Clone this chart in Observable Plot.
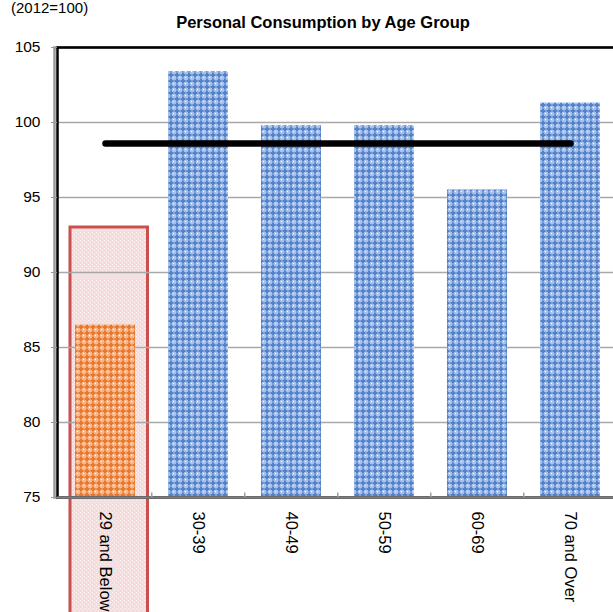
<!DOCTYPE html>
<html>
<head>
<meta charset="utf-8">
<script src="https://cdn.jsdelivr.net/npm/d3@7"></script>
<script src="https://cdn.jsdelivr.net/npm/@observablehq/plot@0.6"></script>
<style>
  html, body { margin: 0; padding: 0; background: #fff; overflow: hidden; }
  #wrap { position: relative; width: 613px; height: 612px; font-family: "Liberation Sans", Arial, sans-serif; }
  #unit { position: absolute; left: 11px; top: 0; font-size: 15px; line-height: 15px; color: #000; }
  #title { position: absolute; left: 0; width: 646px; top: 13px; text-align: center; font-size: 16.5px; font-weight: bold; color: #000; }
  #wrap svg { position: absolute; left: 0; top: 0; }
</style>
</head>
<body>
<div id="wrap">
  <div id="unit">(2012=100)</div>
  <div id="title">Personal Consumption by Age Group</div>
</div>
<script>
// Age groups and their consumption index (2012 = 100)
const ages = ["29 and Below", "30-39", "40-49", "50-59", "60-69", "70 and Over"];
const consumption = [86.5, 103.4, 99.8, 99.8, 95.5, 101.3];

// Overall average across all age groups
const average = 98.6;

// Highlighted group and the top of its emphasis box
const highlightAge = "29 and Below";
const highlightTop = 93;

// Y axis ticks
const yTicks = [75, 80, 85, 90, 95, 100, 105];
const gridTicks = [80, 85, 90, 95, 100];

const data = ages.map((age, i) => ({age, value: consumption[i]}));
const avgLine = [ages[0], ages[ages.length - 1]].map(age => ({age, value: average}));

const marginLeft = 57, marginRight = -5, width = 613;
const step = (width - marginRight - marginLeft) / ages.length;

const chart = Plot.plot({
  width,
  height: 612,
  marginTop: 47,
  marginBottom: 115,
  marginLeft,
  marginRight,
  style: {fontFamily: "Liberation Sans, Arial, sans-serif", fontSize: "15px", color: "#000", background: "transparent"},
  x: {domain: ages, paddingInner: 0.35, paddingOuter: 0.175, label: null},
  y: {domain: [75, 105], label: null},
  marks: [
    // emphasis box around the highlighted group, running down through its label
    Plot.rectY([{age: highlightAge}], {
      x: "age", y1: 75, y2: highlightTop,
      insetLeft: -5, insetRight: -12.5, insetBottom: -125,
      fill: "url(#pinkDots)", stroke: "#c9504d", strokeWidth: 3
    }),
    Plot.ruleY(gridTicks, {stroke: "#a8a8a8", strokeWidth: 1.5}),
    Plot.barY(data.filter(d => d.age === highlightAge), {x: "age", y1: 75, y2: "value", fill: "url(#orangeHatch)"}),
    Plot.barY(data.filter(d => d.age !== highlightAge), {x: "age", y1: 75, y2: "value", fill: "url(#blueHatch)"}),
    // gray axis line just outside the plot frame, then the black frame
    Plot.frame({stroke: "#9a9a9a", strokeWidth: 2.5, dx: -3}),
    Plot.frame({stroke: "#000", strokeWidth: 2.5}),
    Plot.ruleY([75], {stroke: "#7f7f7f", strokeWidth: 2.5}),
    // small separators between categories on the baseline
    Plot.ruleX(ages.slice(1), {y1: 75, y2: 75.3, dx: -step / 2, stroke: "#a0a0a0", strokeWidth: 1.5}),
    Plot.lineY(avgLine, {x: "age", y: "value", stroke: "#000", strokeWidth: 6.5, strokeLinecap: "round"}),
    Plot.axisY({ticks: yTicks, tickSize: 6, tickPadding: 11, stroke: "#9a9a9a", fill: "#000", fontSize: 15.5, tickFormat: d => d}),
    Plot.axisX({tickRotate: 90, tickSize: 0, tickPadding: 14, fill: "#000", fontSize: 16.5})
  ]
});

// fill patterns used by the bars and the emphasis box
const defs = `
<defs>
  <pattern id="blueHatch" width="6" height="6" patternUnits="userSpaceOnUse">
    <rect width="6" height="6" fill="#a7c1ea"/>
    <rect x="2" y="0.5" width="2" height="5" fill="#5282c9"/>
    <rect x="0.5" y="2" width="5" height="2" fill="#5282c9"/>
    <rect x="5" y="5" width="1" height="1" fill="#ffffff"/>
  </pattern>
  <pattern id="orangeHatch" width="6" height="6" patternUnits="userSpaceOnUse">
    <rect width="6" height="6" fill="#f6b78c"/>
    <rect x="2" y="0.5" width="2" height="5" fill="#e9782c"/>
    <rect x="0.5" y="2" width="5" height="2" fill="#e9782c"/>
    <rect x="5" y="5" width="1" height="1" fill="#ffffff"/>
  </pattern>
  <pattern id="pinkDots" width="4" height="4" patternUnits="userSpaceOnUse">
    <rect width="4" height="4" fill="#f6dcdc"/>
    <rect x="0" y="0" width="1" height="1" fill="#fdf3f3"/>
    <rect x="2" y="2" width="1" height="1" fill="#fdf3f3"/>
  </pattern>
</defs>`;
chart.insertAdjacentHTML("afterbegin", defs);

const wrap = document.getElementById("wrap");
wrap.insertBefore(chart, wrap.firstChild);
</script>
</body>
</html>
